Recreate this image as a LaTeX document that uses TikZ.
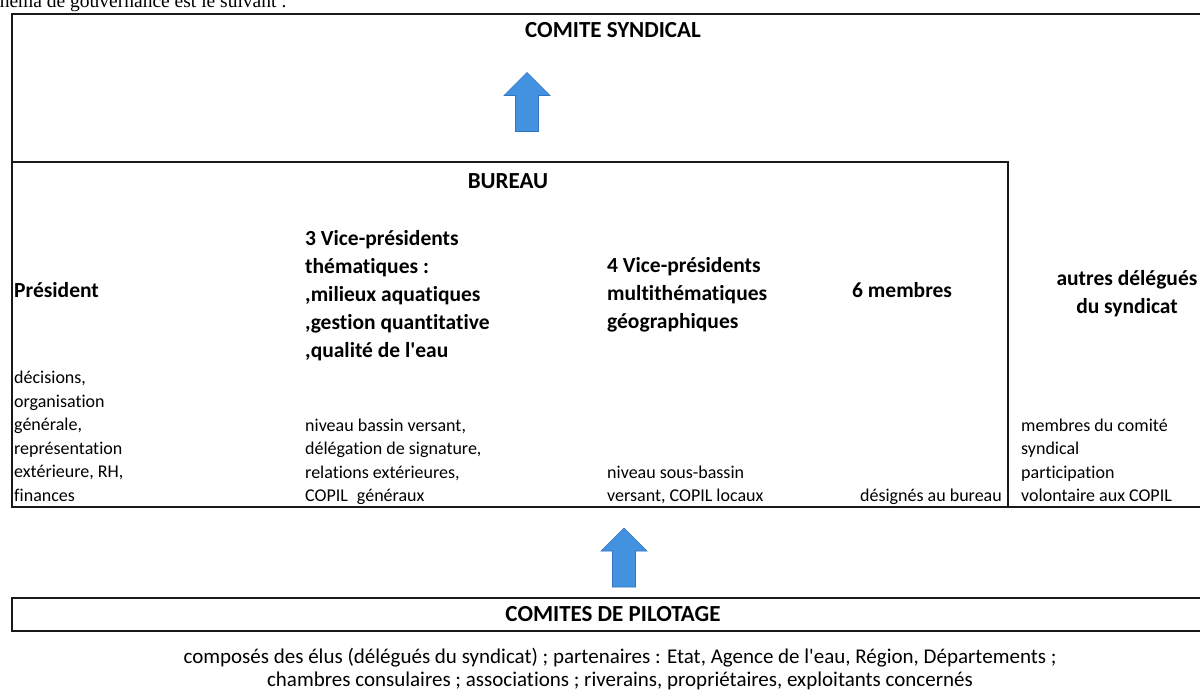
\documentclass[tikz,border=0pt]{standalone}
\usepackage{fontspec}
\setmainfont{Carlito}[Ligatures={NoCommon}]
\newfontfamily\serifcut{Liberation Serif}
\definecolor{arrowblue}{RGB}{66,146,224}
\definecolor{arrowedge}{RGB}{50,115,190}
\definecolor{linecol}{RGB}{25,25,25}
\begin{document}
\begin{tikzpicture}[x=1pt,y=-1pt,
  boxline/.style={line width=2.2pt, draw=linecol},
  titletxt/.style={font=\bfseries\fontsize{23}{28}\selectfont, inner sep=0pt},
  boldtxt/.style={font=\bfseries\fontsize{21.5}{28}\selectfont, inner sep=0pt},
  smalltxt/.style={font=\fontsize{18}{23.5}\selectfont, inner sep=0pt, align=left},
  notetxt/.style={font=\fontsize{21}{23.5}\selectfont, inner sep=0pt, align=center},
  blockup/.pic={\path[fill=arrowblue, draw=arrowedge, line width=0.6pt]
      (0,0) -- (23,23) -- (11.5,23) -- (11.5,59) -- (-11.5,59) -- (-11.5,23) -- (-23,23) -- cycle;}
]
\useasboundingbox (0,0) rectangle (1200,692);
\clip (0,0) rectangle (1200,692);

% cut-off line of the surrounding text
\node[font=\serifcut\fontsize{19.5}{24}\selectfont, inner sep=0pt, anchor=base east] (intro) at (287,8) {schéma de gouvernance est le suivant :};

% frame coordinates
\coordinate (otl) at (12,14);
\coordinate (otr) at (1210,14);
\coordinate (obl) at (12,507);
\coordinate (obr) at (1210,507);
\coordinate (btl) at (12,162);
\coordinate (btr) at (1008,162);
\coordinate (bbr) at (1008,507);
\coordinate (ctl) at (12,598);
\coordinate (cbr) at (1210,631);

% comité syndical frame (open to the right, cut by the page)
\draw[boxline] (otr) -- (otl) -- (obl) -- (obr);
% bureau frame
\draw[boxline] (btl) -- (btr) -- (bbr);
% comités de pilotage frame
\draw[boxline] (ctl) rectangle (cbr);

% titles
\node[titletxt, anchor=base] (cs) at (613,37.5) {COMITE SYNDICAL};
\node[titletxt, anchor=base] (bu) at (508,188.5) {BUREAU};
\node[titletxt, anchor=base] (cp) at (613,621.5) {COMITES DE PILOTAGE};

% bureau columns, headings
\node[boldtxt, anchor=base west] (pres) at (14,297.5) {Président};
\node[boldtxt, anchor=north west, align=left] (vp3) at (305,225.4)
  {\strut 3 Vice-présidents\\thématiques :\\,milieux aquatiques\\,gestion quantitative\\,qualité de l\textquotesingle eau};
\node[boldtxt, anchor=north west, align=left] (vp4) at (607,252.4)
  {\strut 4 Vice-présidents\\multithématiques\\géographiques};
\node[boldtxt, anchor=base west] (six) at (852,298) {6 membres};
\node[boldtxt, anchor=north, align=center] (aut) at (1127,265.4)
  {\strut autres délégués\\du syndicat};

% bureau columns, details
\node[smalltxt, anchor=north west] (presd) at (14,367)
  {\strut décisions,\\organisation\\générale,\\représentation\\extérieure, RH,\\finances};
\node[smalltxt, anchor=north west] (vp3d) at (305,414.5)
  {\strut niveau bassin versant,\\délégation de signature,\\relations extérieures,\\COPIL\hspace{0.5em}généraux};
\node[smalltxt, anchor=north west] (vp4d) at (607,461.5)
  {\strut niveau sous-bassin\\versant, COPIL locaux};
\node[smalltxt, anchor=base east] (des) at (1002,501) {désignés au bureau};
\node[smalltxt, anchor=north west] (autd) at (1021,414.5)
  {\strut membres du comité\\syndical\\participation\\volontaire aux COPIL};

% composition of the comités de pilotage
\node[notetxt, anchor=north] (compo) at (620,646.5)
  {\strut composés des élus (délégués du syndicat) ; partenaires : Etat, Agence de l\textquotesingle eau, Région, Départements ;\\
   chambres consulaires ; associations ; riverains, propriétaires, exploitants concernés};

% block arrows
\pic (upone) at (527,72.5) {blockup};
\pic (uptwo) at (624,528) {blockup};
\end{tikzpicture}
\end{document}
